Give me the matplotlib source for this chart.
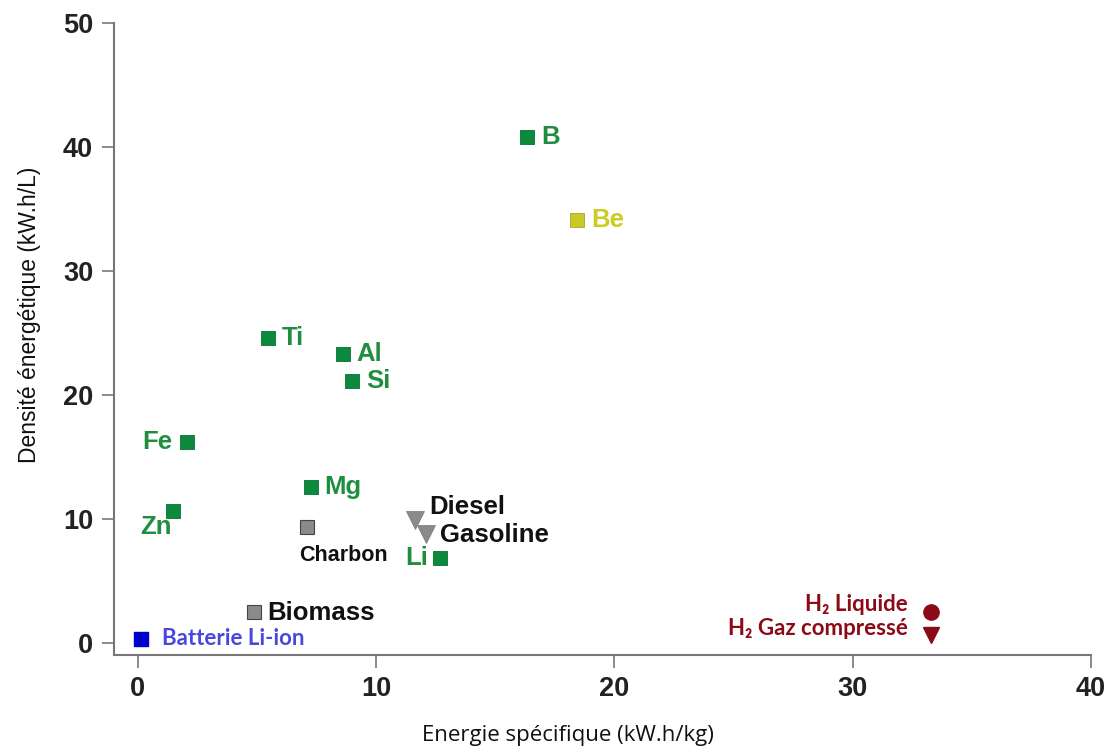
import matplotlib
matplotlib.use("Agg")
import matplotlib.pyplot as plt

# energie specifique (kW.h/kg), densite energetique (kW.h/L)
metals = ["B", "Ti", "Al", "Si", "Fe", "Mg", "Zn", "Li"]
metals_x = [16.35, 5.45, 8.6, 9.0, 2.05, 7.25, 1.47, 12.7]
metals_y = [40.8, 24.6, 23.3, 21.1, 16.2, 12.6, 10.6, 6.8]

be_x, be_y = [18.45], [34.1]

solids = ["Charbon", "Biomass"]
solids_x = [7.1, 4.86]
solids_y = [9.3, 2.5]

fuels = ["Diesel", "Gasoline"]
fuels_x = [11.65, 12.1]
fuels_y = [9.9, 8.8]

battery_x, battery_y = [0.13], [0.3]

h2_liq_x, h2_liq_y = [33.3], [2.5]
h2_gaz_x, h2_gaz_y = [33.3], [0.6]

xticks = [0, 10, 20, 30, 40]
yticks = [0, 10, 20, 30, 40, 50]

green = "#0b8a3e"
green_txt = "#1f8f3f"
gray = "#8a8a8a"
dark = "#111111"
red = "#8b0a17"

fig = plt.figure(figsize=(11.12, 7.47), dpi=100)
ax = fig.add_axes([0.1025, 0.1232, 0.8795, 0.8473])

ax.plot(metals_x, metals_y, "s", color=green, mec="#0a6e30", mew=0.6, ms=9.5, ls="none")
ax.plot(be_x, be_y, "s", color="#c9c928", mec="#a5a520", mew=0.6, ms=9.5)
ax.plot(solids_x, solids_y, "s", color=gray, mec="#444444", mew=0.8, ms=10, ls="none")
ax.plot(fuels_x, fuels_y, "v", color=gray, mec="#777777", mew=0.5, ms=13, ls="none")
ax.plot(battery_x, battery_y, "s", color="#0000cc", ms=9.5)
ax.plot(h2_liq_x, h2_liq_y, "o", color=red, ms=11)
ax.plot(h2_gaz_x, h2_gaz_y, "v", color=red, ms=12)

bold = dict(family="Liberation Sans", fontweight="bold")
cal = dict(family=["Lato", "DejaVu Sans"], fontweight="bold")

# labels: name -> (offset in points, ha)
offsets = {"B": (10, "left"), "Ti": (10, "left"), "Al": (10, "left"),
           "Si": (10, "left"), "Fe": (-10, "right"), "Mg": (10, "left"),
           "Zn": (-1, "right"), "Li": (-9, "right")}
dy = {"Zn": -11, "Li": 0}
for name, x, y in zip(metals, metals_x, metals_y):
    dx, ha = offsets[name]
    ax.annotate(name, (x, y), xytext=(dx, dy.get(name, 0)), textcoords="offset points",
                ha=ha, va="center", color=green_txt, fontsize=18.5, **bold)

ax.annotate("Be", (be_x[0], be_y[0]), xytext=(10, 0), textcoords="offset points",
            ha="left", va="center", color="#cccc22", fontsize=18.5, **bold)
ax.annotate("Charbon", (solids_x[0], solids_y[0]), xytext=(-6, -20), textcoords="offset points",
            ha="left", va="center", color=dark, fontsize=15.5, **bold)
ax.annotate("Biomass", (solids_x[1], solids_y[1]), xytext=(10, -1), textcoords="offset points",
            ha="left", va="center", color=dark, fontsize=18.5, **bold)
ax.annotate("Diesel", (fuels_x[0], fuels_y[0]), xytext=(10, 9), textcoords="offset points",
            ha="left", va="center", color=dark, fontsize=18.5, **bold)
ax.annotate("Gasoline", (fuels_x[1], fuels_y[1]), xytext=(10, -1), textcoords="offset points",
            ha="left", va="center", color=dark, fontsize=18.5, **bold)
ax.annotate("Batterie Li-ion", (battery_x[0], battery_y[0]), xytext=(15, 0),
            textcoords="offset points", ha="left", va="center", color="#4848dd",
            fontsize=16, **cal)
ax.annotate("H₂ Liquide", (h2_liq_x[0], h2_liq_y[0]), xytext=(-17, 5),
            textcoords="offset points", ha="right", va="center", color=red,
            fontsize=16, **cal)
ax.annotate("H₂ Gaz compressé", (h2_gaz_x[0], h2_gaz_y[0]), xytext=(-17, 5),
            textcoords="offset points", ha="right", va="center", color=red,
            fontsize=16, **cal)

ax.set_xlim(-1, 40.05)
ax.set_ylim(-1, 50.1)
ax.set_xticks(xticks)
ax.set_yticks(yticks)
for lab in ax.get_xticklabels() + ax.get_yticklabels():
    lab.set_fontfamily("Liberation Sans")
    lab.set_fontweight("bold")
    lab.set_fontsize(19.5)
ax.tick_params(colors="#777777", length=9, width=1.2, pad=6, labelcolor="#222222")

ax.spines["top"].set_visible(False)
ax.spines["right"].set_visible(False)
for s in ("left", "bottom"):
    ax.spines[s].set_color("#777777")
    ax.spines[s].set_linewidth(1.5)
ax.spines["left"].set_bounds(-1, 50)
ax.spines["bottom"].set_bounds(-1, 40)

ax.set_xlabel("Energie spécifique (kW.h/kg)", family="Open Sans", fontsize=16,
              color="#111111", va="center")
ax.xaxis.set_label_coords(0.464, -0.127)
ax.set_ylabel("Densité énergétique (kW.h/L)", family="Liberation Sans", fontsize=16.5,
              color="#111111", va="center")
ax.yaxis.set_label_coords(-0.086, 0.537)

fig.savefig("out.png", dpi=100)
